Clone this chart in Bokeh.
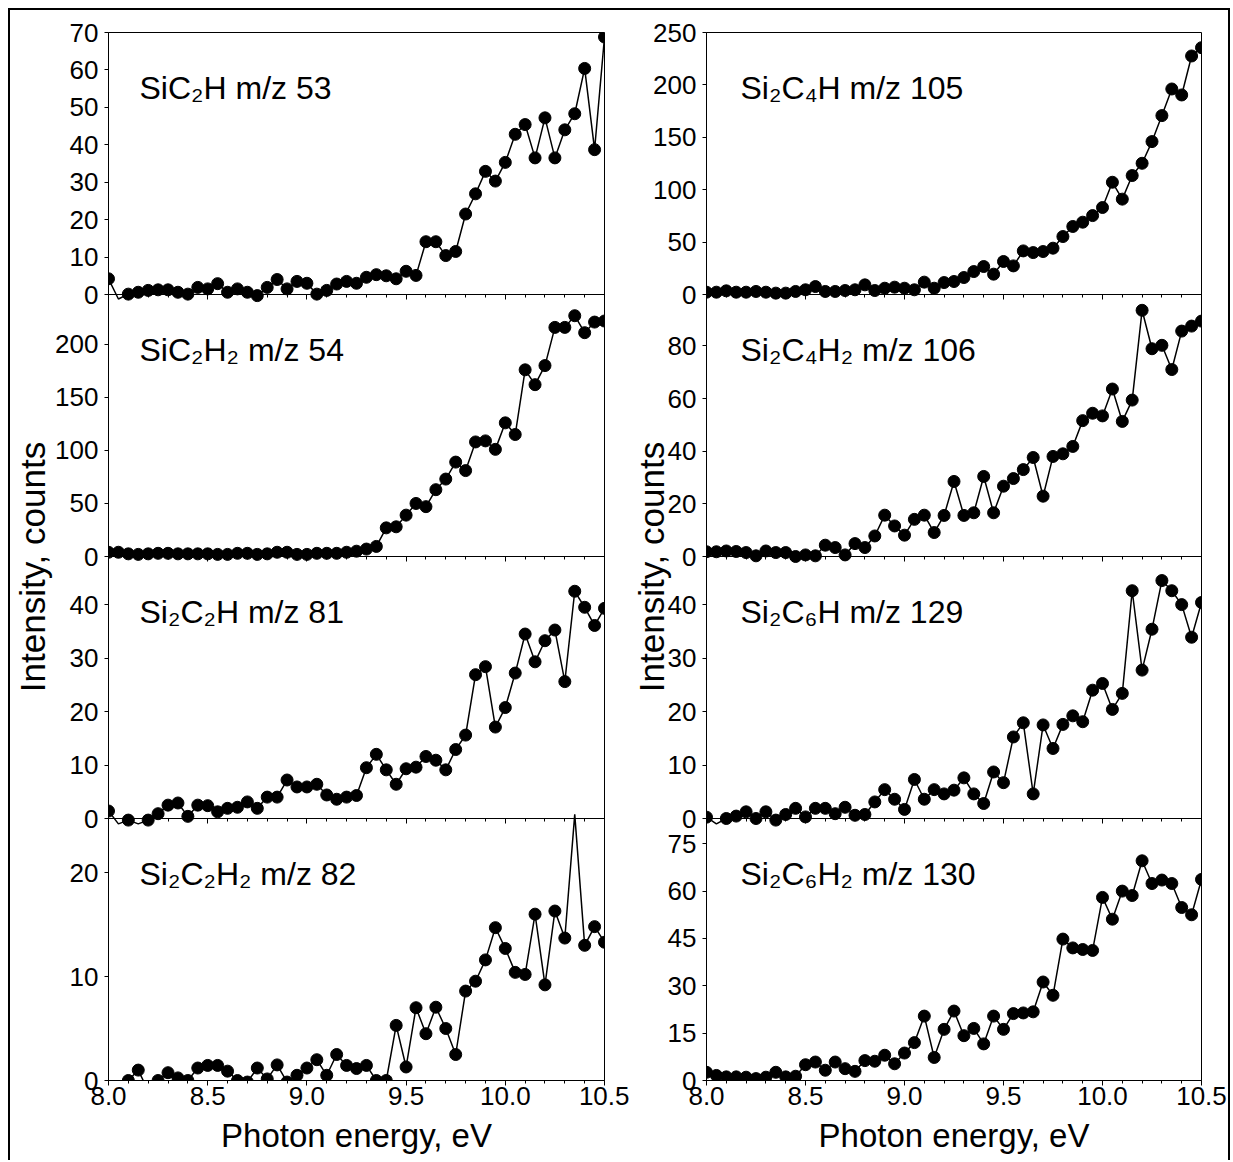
from bokeh.plotting import figure
from bokeh.models import (Range1d, LinearAxis, FixedTicker, SingleIntervalTicker,
                          NumeralTickFormatter, ColumnDataSource, CDSView, BooleanFilter, Label)
from bokeh.layouts import row
from bokeh.embed import file_html
from bokeh.resources import INLINE

# ---------------- data ----------------
energy_ev = [8.00, 8.05, 8.10, 8.15, 8.20, 8.25, 8.30, 8.35, 8.40, 8.45,
             8.50, 8.55, 8.60, 8.65, 8.70, 8.75, 8.80, 8.85, 8.90, 8.95,
             9.00, 9.05, 9.10, 9.15, 9.20, 9.25, 9.30, 9.35, 9.40, 9.45,
             9.50, 9.55, 9.60, 9.65, 9.70, 9.75, 9.80, 9.85, 9.90, 9.95,
             10.00, 10.05, 10.10, 10.15, 10.20, 10.25, 10.30, 10.35, 10.40, 10.45,
             10.50]

sic2h_53 = [4.2, -1.2, 0.1, 0.6, 1.1, 1.25, 1.25, 0.6, 0.1, 1.9,
            1.5, 2.9, 0.6, 1.5, 0.6, -0.3, 1.9, 4.0, 1.5, 3.5,
            3.0, 0.1, 1.1, 2.8, 3.5, 3.0, 4.6, 5.3, 5.0, 4.2,
            6.2, 5.1, 14.1, 14.1, 10.4, 11.5, 21.5, 26.9, 32.9, 30.3,
            35.3, 42.8, 45.4, 36.5, 47.2, 36.5, 44.0, 48.3, 60.4, 38.7,
            68.8]

sic2h2_54 = [4, 4, 2.5, 2, 2.5, 3, 3, 2.5, 2.5, 2.5,
             2.5, 2, 2, 3, 3, 2, 2.5, 4, 4, 2,
             2, 3, 3, 3, 4, 5, 7, 9.5, 27, 28,
             39, 50, 47, 63, 73, 89, 81, 108, 109, 101,
             126, 115, 176, 162, 180, 216, 216, 227, 211, 221,
             222]

si2c2h_81 = [1.4, -1.0, -0.3, -1.0, -0.3, 0.9, 2.5, 2.9, 0.4, 2.5,
             2.4, 1.25, 1.9, 2.1, 3.1, 1.9, 4.0, 4.0, 7.2, 5.9,
             5.9, 6.4, 4.4, 3.6, 4.0, 4.3, 9.5, 12.0, 9.1, 6.4,
             9.3, 9.6, 11.6, 10.9, 9.1, 12.9, 15.6, 26.9, 28.4, 17.1,
             20.75, 27.2, 34.5, 29.3, 33.25, 35.25, 25.6, 42.5, 39.5, 36.1,
             39.3]

si2c2h2_82 = [-1.0, -1.0, 0.0, 1.0, -1.0, 0.0, 0.75, 0.25, 0.0, 1.2,
              1.45, 1.45, 0.9, 0.0, -0.15, 1.2, 0.15, 1.5, -0.15, 0.5,
              1.2, 2.0, 0.5, 2.5, 1.45, 1.15, 1.45, 0.0, 0.0, 5.3,
              1.3, 7.0, 4.5, 7.05, 5.0, 2.5, 8.6, 9.55, 11.6, 14.7,
              12.7, 10.4, 10.2, 16.0, 9.2, 16.3, 13.7, 25.6, 13.0, 14.8,
              13.3]

si2c4h_105 = [2.2, 2.2, 3.5, 2.2, 2.2, 2.9, 2.2, 1.3, 1.3, 2.9,
              4.5, 7.6, 2.9, 2.9, 3.8, 4.5, 9.2, 3.8, 6.0, 7.0,
              6.0, 4.5, 11.8, 6.0, 11.4, 12.4, 16.2, 21.9, 26.7, 19.4,
              31.5, 27.3, 41.6, 40.0, 41.0, 44.2, 55.3, 64.9, 69.0, 75.3,
              83.0, 107.1, 91.0, 113.5, 125.2, 145.9, 170.7, 196.1, 190.4, 227.6,
              235.5]

si2c4h2_106 = [1.8, 1.8, 2.1, 1.9, 1.5, 0.25, 2.1, 1.5, 1.5, 0.0,
               0.6, 0.25, 4.3, 3.4, 0.6, 4.9, 3.4, 7.8, 15.7, 11.6,
               8.1, 14.1, 15.7, 9.1, 15.6, 28.5, 15.6, 16.6, 30.4, 16.6,
               26.7, 29.6, 33.0, 37.6, 22.9, 38.0, 39.0, 41.8, 51.6, 54.4,
               53.4, 63.6, 51.3, 59.4, 93.5, 78.9, 80.2, 71.0, 85.6, 87.5,
               89.4]

si2c6h_129 = [0.25, -1.0, 0.0, 0.45, 1.25, 0.0, 1.25, -0.3, 0.75, 1.9,
              0.3, 1.9, 1.9, 0.9, 2.1, 0.6, 0.75, 3.1, 5.4, 3.6,
              1.7, 7.3, 3.6, 5.4, 4.6, 5.3, 7.6, 4.6, 2.8, 8.7,
              6.7, 15.25, 17.9, 4.6, 17.5, 13.1, 17.6, 19.2, 18.1, 24.0,
              25.25, 20.4, 23.4, 42.6, 27.75, 35.4, 44.5, 42.6, 40.0, 33.9,
              40.4]

si2c6h2_130 = [2.6, 1.6, 1.15, 1.15, 1.05, 0.6, 1.05, 2.6, 1.15, 1.35,
               5.0, 5.85, 3.25, 5.85, 3.75, 2.9, 6.3, 6.1, 8.0, 5.3,
               8.7, 12.0, 20.4, 7.3, 16.2, 22.0, 14.2, 16.5, 11.6, 20.4,
               16.2, 21.2, 21.4, 21.75, 31.2, 27.0, 44.8, 42.0, 41.5, 41.2,
               58.0, 51.1, 60.0, 58.6, 69.6, 62.4, 63.5, 62.4, 54.8, 52.5,
               63.7]

left_series = [sic2h_53, sic2h2_54, si2c2h_81, si2c2h2_82]
left_labels = ["SiC₂H m/z 53", "SiC₂H₂ m/z 54", "Si₂C₂H m/z 81", "Si₂C₂H₂ m/z 82"]
left_ymax = [70, 247, 49, 25.2]
left_yticks = [[0, 10, 20, 30, 40, 50, 60, 70], [0, 50, 100, 150, 200],
               [0, 10, 20, 30, 40], [0, 10, 20]]

right_series = [si2c4h_105, si2c4h2_106, si2c6h_129, si2c6h2_130]
right_labels = ["Si₂C₄H m/z 105", "Si₂C₄H₂ m/z 106", "Si₂C₆H m/z 129", "Si₂C₆H₂ m/z 130"]
right_ymax = [250, 99.5, 49, 83]
right_yticks = [[0, 50, 100, 150, 200, 250], [0, 20, 40, 60, 80],
                [0, 10, 20, 30, 40], [0, 15, 30, 45, 60, 75]]

x_label = "Photon energy, eV"
y_label = "Intensity, counts"

FONT = "Liberation Sans"


def style_x_axis(ax, show_labels):
    ax.ticker = SingleIntervalTicker(interval=0.5, num_minor_ticks=5)
    ax.formatter = NumeralTickFormatter(format="0.0")
    ax.axis_line_color = "black"
    ax.axis_line_width = 1
    ax.major_tick_line_color = "black"
    ax.minor_tick_line_color = "black"
    ax.major_tick_in = 0
    ax.major_tick_out = 5
    ax.minor_tick_in = 0
    ax.minor_tick_out = 3
    ax.major_label_text_font = FONT
    ax.major_label_text_font_size = "26px"
    ax.major_label_text_color = "black" if show_labels else None
    ax.major_label_standoff = 1


def build_column(series, labels, ymaxes, yticks, frame_w, border_l, border_r,
                 label_dx, ylabel_standoff):
    n = len(series)
    ranges = {}
    tick_pos = []
    tick_text = {}
    for i, (ymax, ticks) in enumerate(zip(ymaxes, yticks)):
        j = n - 1 - i
        ranges[f"r{i}"] = Range1d(start=-j * ymax, end=(n - j) * ymax)
        # tick positions expressed on the shared (0..n) panel scale
        for t in ticks:
            pos = j + t / ymax
            tick_pos.append(pos)
            tick_text[pos] = str(t)

    p = figure(frame_width=frame_w, frame_height=1048,
               x_range=Range1d(8.0, 10.5), y_range=Range1d(0, n),
               min_border_left=border_l, min_border_right=border_r,
               min_border_top=22, min_border_bottom=80,
               y_axis_location=None, output_backend="svg",
               toolbar_location=None, tools="")
    p.extra_y_ranges = ranges
    p.grid.visible = False
    p.outline_line_color = "black"
    p.outline_line_width = 1
    p.border_fill_color = "white"
    p.background_fill_color = "white"

    bottom = p.below[0]
    style_x_axis(bottom, True)
    bottom.axis_label = x_label
    bottom.axis_label_text_font = FONT
    bottom.axis_label_text_font_size = "33px"
    bottom.axis_label_text_font_style = "normal"
    bottom.axis_label_text_color = "black"
    bottom.axis_label_standoff = 9

    for k in range(1, n):
        b = LinearAxis(fixed_location=k)
        style_x_axis(b, False)
        p.add_layout(b, "below")

    ya = LinearAxis(ticker=FixedTicker(ticks=tick_pos), major_label_overrides=tick_text)
    ya.axis_line_color = "black"
    ya.major_tick_line_color = "black"
    ya.major_tick_in = 0
    ya.major_tick_out = 4
    ya.minor_tick_line_color = None
    ya.major_label_text_font = FONT
    ya.major_label_text_font_size = "26px"
    ya.major_label_text_color = "black"
    ya.major_label_standoff = 6
    p.add_layout(ya, "left")

    # axis carrying only the column title, placed slightly below the middle
    title_pos = (n / 2) * 0.98
    ta = LinearAxis(ticker=FixedTicker(ticks=[title_pos]),
                    major_label_overrides={title_pos: y_label})
    ta.axis_line_color = None
    ta.major_tick_line_color = None
    ta.major_tick_out = 0
    ta.major_tick_in = 0
    ta.minor_tick_out = 0
    ta.minor_tick_in = 0
    ta.major_label_orientation = "vertical"
    ta.major_label_text_font = FONT
    ta.major_label_text_font_size = "35px"
    ta.major_label_text_line_height = 1.0
    ta.major_label_text_color = "black"
    ta.major_label_standoff = ylabel_standoff
    p.add_layout(ta, "left")

    for i, (vals, lab, ymax) in enumerate(zip(series, labels, ymaxes)):
        name = f"r{i}"
        src = ColumnDataSource(data=dict(x=energy_ev, y=vals))
        p.line("x", "y", source=src, y_range_name=name, line_color="black", line_width=1.5)
        mask = [(-0.5 <= v <= ymax) for v in vals]
        p.scatter("x", "y", source=src, y_range_name=name, size=12,
                  fill_color="black", line_color="black",
                  view=CDSView(filter=BooleanFilter(booleans=mask)))
        p.add_layout(Label(x=8.0, y=ymax, y_range_name=name, x_offset=label_dx, y_offset=-55,
                           text=lab, text_font=FONT, text_font_size="32px",
                           text_align="left", text_baseline="alphabetic", text_color="black"))
    return p


left = build_column(left_series, left_labels, left_ymax, left_yticks,
                    496, 98, 25, 31, 0)
right = build_column(right_series, right_labels, right_ymax, right_yticks,
                     495, 76, 27, 34, -21)

layout = row(left, right, margin=(8, 0, 0, 8),
             styles={"border-top": "2px solid black",
                     "border-left": "2px solid black",
                     "border-right": "2px solid black"})

open("out.html", "w").write(file_html(layout, INLINE))
